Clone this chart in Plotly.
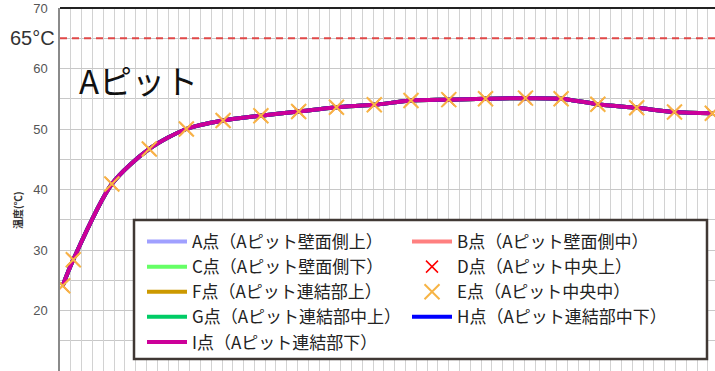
import plotly.graph_objects as go

# ---- data ----
time_h = [0.25, 1.23, 4.8, 8.27, 11.7, 15.1, 18.6, 22.1, 25.6, 29.1, 32.5, 36.0, 39.4, 43.1, 46.4, 49.8, 53.4, 56.9, 60.4]
temp_I = [24.1, 28.4, 40.9, 46.7, 50.0, 51.4, 52.2, 52.9, 53.6, 54.0, 54.7, 54.85, 55.0, 55.1, 55.0, 54.1, 53.5, 52.8, 52.6]
temp_E = temp_I
temp_D = temp_I
ref_line = 65
y_ticks = [10, 20, 30, 40, 50, 60, 70]

line_series = [
    ("A点（Aピット壁面側上）", "#A0A0FF", 1),
    ("B点（Aピット壁面側中）", "#FF8080", 2),
    ("C点（Aピット壁面側下）", "#66FF66", 3),
    ("F点（Aピット連結部上）", "#CC9900", 5),
    ("G点（Aピット連結部中上）", "#00CC66", 7),
    ("H点（Aピット連結部中下）", "#0000FF", 8),
    ("I点（Aピット連結部下）", "#CC0099", 9),
]

FONT = "Noto Sans CJK JP"
fig = go.Figure()

for name, color, rank in line_series:
    fig.add_trace(go.Scatter(
        x=time_h, y=temp_I, mode="lines", name=name, legendrank=rank,
        line=dict(color=color, width=4, shape="spline", smoothing=0.8),
    ))

fig.add_trace(go.Scatter(
    x=time_h, y=temp_D, mode="markers", name="D点（Aピット中央上）", legendrank=4,
    marker=dict(symbol="x-thin-open", size=12, color="#FF0000",
                line=dict(color="#FF0000", width=1.5)),
))
fig.add_trace(go.Scatter(
    x=time_h, y=temp_E, mode="markers", name="E点（Aピット中央中）", legendrank=6,
    marker=dict(symbol="x-thin-open", size=15, color="#F7B445",
                line=dict(color="#F7B445", width=2)),
))

# 65°C reference line
fig.add_shape(type="line", xref="x domain", yref="y", x0=0, x1=1, y0=ref_line, y1=ref_line,
              line=dict(color="#E04848", width=2, dash="7px,5px"))
# top border
fig.add_shape(type="line", xref="paper", yref="paper", x0=0, x1=1, y0=1, y1=1,
              line=dict(color="#222222", width=2))
# legend box
fig.add_shape(type="rect", xref="paper", yref="paper",
              x0=(134 - 60) / 655, x1=(707 - 60) / 655,
              y0=1 - (359 - 8) / 363, y1=1 - (220 - 8) / 363,
              fillcolor="white", line=dict(color="#403834", width=2.5), layer="above")

fig.add_annotation(text="Aピット", xref="paper", yref="paper",
                   x=(77 - 60) / 655, y=1 - (80 - 8) / 363, xanchor="left", yanchor="middle",
                   showarrow=False, font=dict(family=FONT, size=33, color="#111111"))
fig.add_annotation(text="65°C", xref="paper", yref="y", x=-0.005, y=ref_line,
                   xanchor="right", yanchor="middle", showarrow=False,
                   font=dict(family="Liberation Sans, Arial", size=20, color="#333333"))
fig.add_annotation(text="<b>温度(℃)</b>", xref="paper", yref="paper",
                   x=(18 - 60) / 655, y=1 - (210 - 8) / 363, xanchor="center", yanchor="middle",
                   textangle=-90, showarrow=False,
                   font=dict(family=FONT, size=10, color="#333333"))

fig.update_layout(
    width=715, height=371,
    margin=dict(l=60, r=0, t=8, b=0, autoexpand=False),
    paper_bgcolor="white", plot_bgcolor="white",
    showlegend=True,
    legend=dict(
        orientation="h", x=(142 - 60) / 655, y=1 - (224 - 8) / 363,
        xanchor="left", yanchor="top",
        entrywidth=210, entrywidthmode="pixels",
        bgcolor="rgba(0,0,0,0)", borderwidth=0,
        font=dict(family=FONT, size=17, color="#222222"),
        itemwidth=40, tracegroupgap=0,
    ),
    xaxis=dict(range=[0, 60.65], dtick=1, tick0=0, showticklabels=False,
               showgrid=True, gridcolor="#D2D2D2", gridwidth=1.3,
               showline=False, zeroline=False, fixedrange=True, automargin=False),
    yaxis=dict(range=[10, 70], tickvals=y_ticks, showgrid=True, gridcolor="#C8C8C8", gridwidth=1.3,
               minor=dict(dtick=5, showgrid=True, gridcolor="#C8C8C8", gridwidth=1.3),
               showline=True, linecolor="#8A8A8A", linewidth=1.5, zeroline=False,
               ticks="", ticklabelstandoff=8, automargin=False, fixedrange=True,
               tickfont=dict(family="Liberation Sans, Arial", size=13, color="#555555")),
)

fig.write_html("out.html", config={"displayModeBar": False},
               post_script="document.body.style.margin='0';")
